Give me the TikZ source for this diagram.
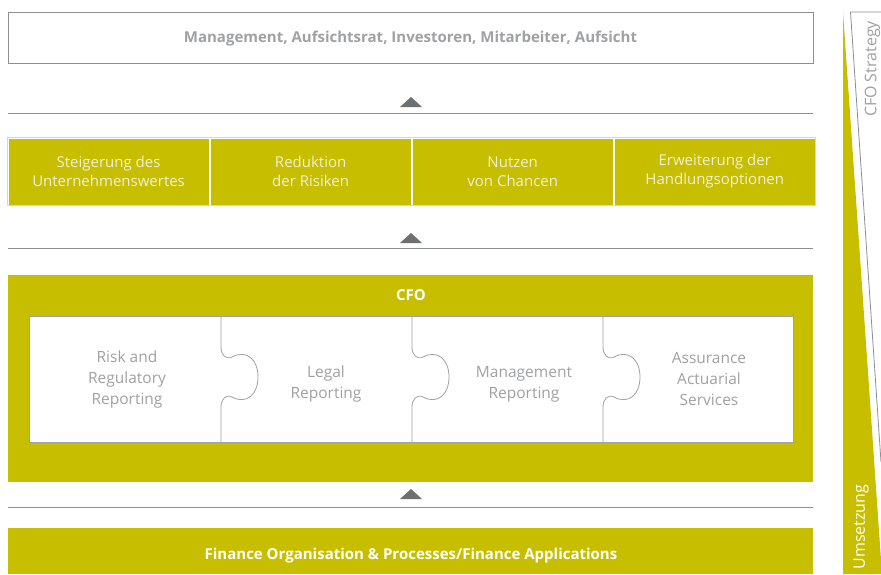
\documentclass[tikz,border=0pt]{standalone}
\usepackage{fontspec}
\setmainfont{Open Sans}
\usetikzlibrary{positioning}
\definecolor{cfoolive}{RGB}{199,190,0}
\definecolor{linegray}{RGB}{140,143,146}
\definecolor{arrowgray}{RGB}{108,112,115}
\definecolor{textgray}{RGB}{160,161,163}
\definecolor{celltext}{RGB}{240,240,214}
\definecolor{rowedge}{RGB}{222,218,168}

\begin{document}
\begin{tikzpicture}[x=1pt,y=-1pt,
  box/.style={draw=linegray,line width=0.8pt,fill=white,minimum width=805pt,minimum height=51pt,inner sep=0pt,text height=11pt,text depth=1pt,font=\bfseries\fontsize{15}{18}\selectfont,text=textgray},
  cell/.style={draw=white,line width=0.8pt,fill=cfoolive,minimum width=201.25pt,minimum height=67pt,inner sep=0pt,align=center,text=celltext,font=\fontsize{15}{19}\selectfont},
  piece/.style={align=center,text=textgray,font=\fontsize{15.5}{21}\selectfont},
  title/.style={text=white,text height=11pt,text depth=1pt,font=\bfseries\fontsize{15}{18}\selectfont},
  sep/.style={draw=linegray,line width=0.9pt},
  uparrow/.style={fill=arrowgray},
  knob/.style={draw=textgray,line width=0.8pt}]
\useasboundingbox (0,0) rectangle (881,574);

% top box
\node[box] (adressaten) at (410.5,37.5) {Management, Aufsichtsrat, Investoren, Mitarbeiter, Aufsicht};
\fill[uparrow] (400,107) -- (422,107) -- (411,97) -- cycle;
\draw[sep] (8,113.5) -- (813,113.5);

% goals
\node[cell] (wert) at (108.6,171.5) {Steigerung des\\Unternehmenswertes};
\node[cell,right=0pt of wert] (risiken) {Reduktion\\der Risiken};
\node[cell,right=0pt of risiken] (chancen) {Nutzen\\von Chancen};
\node[cell,right=0pt of chancen] (optionen) {Erweiterung der\\Handlungsoptionen};
\draw[rowedge,line width=0.8pt] (wert.north west) rectangle (optionen.south east);
\fill[uparrow] (400,243) -- (422,243) -- (411,233) -- cycle;
\draw[sep] (8,248.5) -- (813,248.5);

% CFO
\fill[cfoolive] (8,275) rectangle (813,481.5);
\node[title] (cfo) at (411,295) {CFO};
\draw[draw=textgray,fill=white,line width=0.8pt] (29,316) rectangle (793,442);
\foreach \px in {221,412,603}
  \draw[knob,xshift=\px pt] (0,316) -- (0,347)
    .. controls (0,355) and (5,360) .. (11,357)
    .. controls (26,349) and (37,360) .. (37,377)
    .. controls (37,394) and (26,405) .. (11,397)
    .. controls (5,394) and (0,399) .. (0,407) -- (0,442);
\node[piece] (risk) at (127,379) {Risk and\\Regulatory\\Reporting};
\node[piece] (legal) at (326,384) {Legal\\Reporting};
\node[piece] (mgmt) at (524,384) {Management\\Reporting};
\node[piece] (assur) at (709,379) {Assurance\\Actuarial\\Services};
\fill[uparrow] (400,499) -- (422,499) -- (411,489) -- cycle;
\draw[sep] (8,507) -- (813,507);

% finance
\fill[cfoolive] (8,528) rectangle (813,574);
\node[title] (finance) at (411,554.5) {Finance Organisation \& Processes/Finance Applications};

% side wedges
\fill[cfoolive] (843,12) -- (843,574) -- (882,574) -- cycle;
\fill[white] (850.5,12) -- (881,12) -- (881,462) -- cycle;
\draw[linegray,line width=0.8pt] (881,12) -- (850.5,12) -- (881,462);
\node[rotate=90,text=textgray,font=\fontsize{16}{19}\selectfont] (strategie) at (872.5,69) {CFO Strategy};
\node[rotate=90,text=white,font=\fontsize{16}{19}\selectfont] (umsetzung) at (861,527) {Umsetzung};
\end{tikzpicture}
\end{document}
